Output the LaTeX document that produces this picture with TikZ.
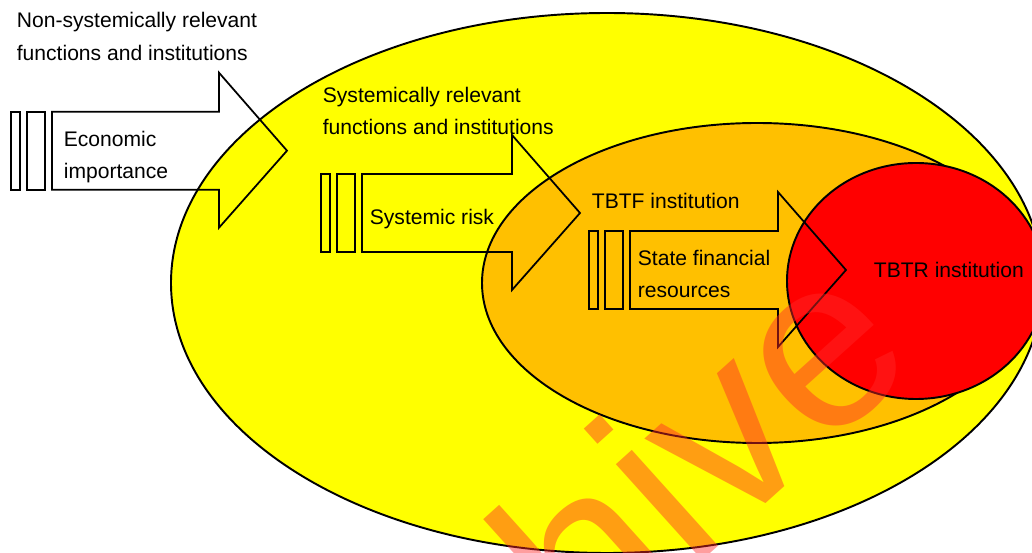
\documentclass[tikz,border=0pt]{standalone}
\usepackage{fontspec}
\setmainfont{Liberation Sans}

\definecolor{outeryellow}{RGB}{255,255,0}
\definecolor{midorange}{RGB}{255,192,0}
\definecolor{innerred}{RGB}{255,0,0}
\definecolor{stampred}{RGB}{255,40,40}

\begin{document}
\begin{tikzpicture}[x=0.02cm, y=-0.02cm, line width=1pt]
	\tikzstyle{txt} = [inner sep=0pt, anchor=base west, align=left, font=\fontsize{12}{18.7}\selectfont];
	\tikzstyle{zone} = [draw=black, line width=1.1pt];
	
	\useasboundingbox (0,0) rectangle (1032,553);
	\clip (0,0) rectangle (1032,553);
	
	% nested areas
	\filldraw[zone, fill=outeryellow] (607,283) ellipse [x radius=436, y radius=270];
	\filldraw[zone, fill=midorange] (757,283) ellipse [x radius=275, y radius=160];
	\filldraw[zone, fill=innerred] (916,281) ellipse [x radius=129, y radius=118];
	
	% #1,#2 = top left of first bar, #3 = shaft length
	\def\bararrow#1#2#3{
		\draw (#1,#2) rectangle ++(9,78);
		\draw (#1+16,#2) rectangle ++(18,78);
		\draw (#1+41,#2) -- ++(#3,0) -- ++(0,-39) -- ++(68,78) -- ++(-68,77) -- ++(0,-38) -- ++(-#3,0) -- cycle;
	}
	
	\bararrow{11}{111.7}{167}
	\bararrow{321}{174}{150}
	\bararrow{589}{231}{148}
	
	% anchor = baseline of the last line
	\node[txt] (nonsys) at (16,60.5) {Non-systemically relevant\\functions and institutions};
	\node[txt] (econ) at (63,179) {Economic\\importance};
	\node[txt] (sysrel) at (322,135) {Systemically relevant\\functions and institutions};
	\node[txt] (sysrisk) at (369,225) {Systemic risk};
	\node[txt] (tbtf) at (591,209) {TBTF institution};
	\node[txt] (statefin) at (637,298) {State financial\\resources};
	\node[txt] (tbtr) at (873,278) {TBTR institution};
	
	% watermark
	\node[text=stampred, opacity=0.45, rotate=42, anchor=base east, inner sep=0pt, font=\fontsize{139}{150}\selectfont] (stamp) at (923,362) {Archive};
	
\end{tikzpicture}
\end{document}
